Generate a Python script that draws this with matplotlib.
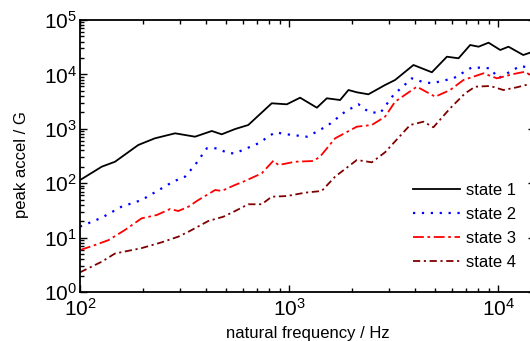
import matplotlib
matplotlib.use('Agg')
import matplotlib.pyplot as plt
import numpy as np

# values (frequency in Hz, peak accel in G)
f1 = [100, 127, 147, 190, 228, 285, 355, 427, 476, 552, 638, 826, 975, 1129, 1358,
      1515, 1754, 1923, 2109, 2395, 2877, 3213, 3934, 4818, 5687, 6461, 7345, 8055,
      8995, 10230, 11200, 13180, 14600]
a1 = [114, 201, 248, 504, 668, 826, 716, 912, 792, 991, 1175, 2944, 2820, 3730, 2443,
      3637, 3383, 5164, 4688, 4306, 6383, 7888, 14890, 10940, 21150, 19770, 34700, 32300,
      38270, 28100, 32300, 22730, 26000]

f2 = [100, 127, 158, 197, 246, 279, 318, 355, 404, 451, 513, 552, 713, 857, 975,
      1216, 1358, 1543, 1853, 2148, 2395, 2723, 3155, 3866, 4318, 4818, 6113, 7484,
      9158, 10030, 11400, 12730, 14600]
a2 = [15.9, 23.2, 37, 49, 80.5, 107, 132, 216, 438, 438, 355, 355, 541, 863, 792,
      716, 885, 1175, 2062, 2820, 2062, 1928, 4180, 8470, 7340, 6860, 8470, 13500,
      12950, 8470, 11210, 14270, 12950]

f3 = [100, 118, 137, 164, 197, 233, 270, 295, 330, 368, 443, 476, 552, 616, 740,
      841, 889, 1069, 1307, 1406, 1660, 2109, 2487, 2877, 3213, 4083, 5000, 5890,
      6823, 8507, 9863, 11830, 13460, 14600]
a3 = [5.9, 7.3, 9.0, 13.8, 22.6, 26, 33.6, 30.8, 37, 49, 75, 72, 93, 110, 152,
      259, 216, 248, 256, 307, 668, 1094, 1175, 1668, 3150, 5940, 3890, 5164,
      7888, 10470, 8470, 10160, 11210, 9070]

f4 = [100, 127, 147, 197, 246, 295, 330, 411, 485, 552, 638, 740, 826, 975, 1194,
      1432, 1660, 2109, 2487, 2877, 3793, 4393, 4900, 5890, 6950, 7760, 9158, 10600,
      12280, 14600]
a4 = [2.3, 3.6, 5.1, 6.4, 8.2, 10.4, 12.8, 20.2, 24.2, 30.8, 41, 41, 56.5, 58, 67,
      72, 132, 267, 242, 370, 1175, 1350, 1066, 2380, 4490, 5940, 6120, 5164,
      5790, 6860]

labels = ['state 1', 'state 2', 'state 3', 'state 4']

plt.rcParams['font.family'] = ['Liberation Sans', 'DejaVu Sans']
plt.rcParams['mathtext.fontset'] = 'custom'
plt.rcParams['mathtext.rm'] = 'Liberation Sans'
plt.rcParams['mathtext.it'] = 'Liberation Sans:italic'
plt.rcParams['mathtext.bf'] = 'Liberation Sans:bold'

fig = plt.figure(figsize=(5.3, 3.41), dpi=100)
# axes run a little past the right edge, like the cropped original
ax = fig.add_axes([80 / 530, 49 / 341, 455 / 530, 272 / 341])

ax.plot(f1, a1, color='black', lw=1.3, ls='-', label=labels[0])
ax.plot(f2, a2, color='#0000ff', lw=1.6, ls=(0, (1, 3)), label=labels[1])
ax.plot(f3, a3, color='#ff0000', lw=1.3, ls=(0, (6, 2, 1.5, 2)), label=labels[2])
ax.plot(f4, a4, color='#800000', lw=1.3, ls=(0, (4, 2, 1.2, 2)), label=labels[3])

ax.set_xscale('log')
ax.set_yscale('log')
ax.set_xlim(100, 15000)
ax.set_ylim(1, 1e5)

ax.set_xticks([1e2, 1e3, 1e4])
ax.set_xticklabels(['$10^2$', '$10^3$', '$10^4$'])
ax.set_yticks([1e0, 1e1, 1e2, 1e3, 1e4, 1e5])
ax.set_yticklabels(['$10^0$', '$10^1$', '$10^2$', '$10^3$', '$10^4$', '$10^5$'])

ax.tick_params(which='both', direction='in', top=True, right=True, labelsize=15, width=1)
ax.tick_params(which='major', length=5, pad=2)
ax.tick_params(axis='x', which='major', pad=4)
ax.tick_params(which='minor', length=2.8)
for s in ax.spines.values():
    s.set_linewidth(1.3)

ax.set_xlabel('natural frequency / Hz', fontsize=12)
ax.set_ylabel('peak accel / G', fontsize=12)
ax.xaxis.set_label_coords(0.5, -0.125)
ax.yaxis.set_label_coords(-0.113, 0.47)

ax.legend(loc='center left', bbox_to_anchor=(413 / 530, 114.5 / 341),
          bbox_transform=fig.transFigure, frameon=False, fontsize=12,
          handlelength=2.8, handletextpad=0.4, labelspacing=0.55,
          borderpad=0, borderaxespad=0)

fig.savefig('out.png', dpi=100, facecolor='white')
